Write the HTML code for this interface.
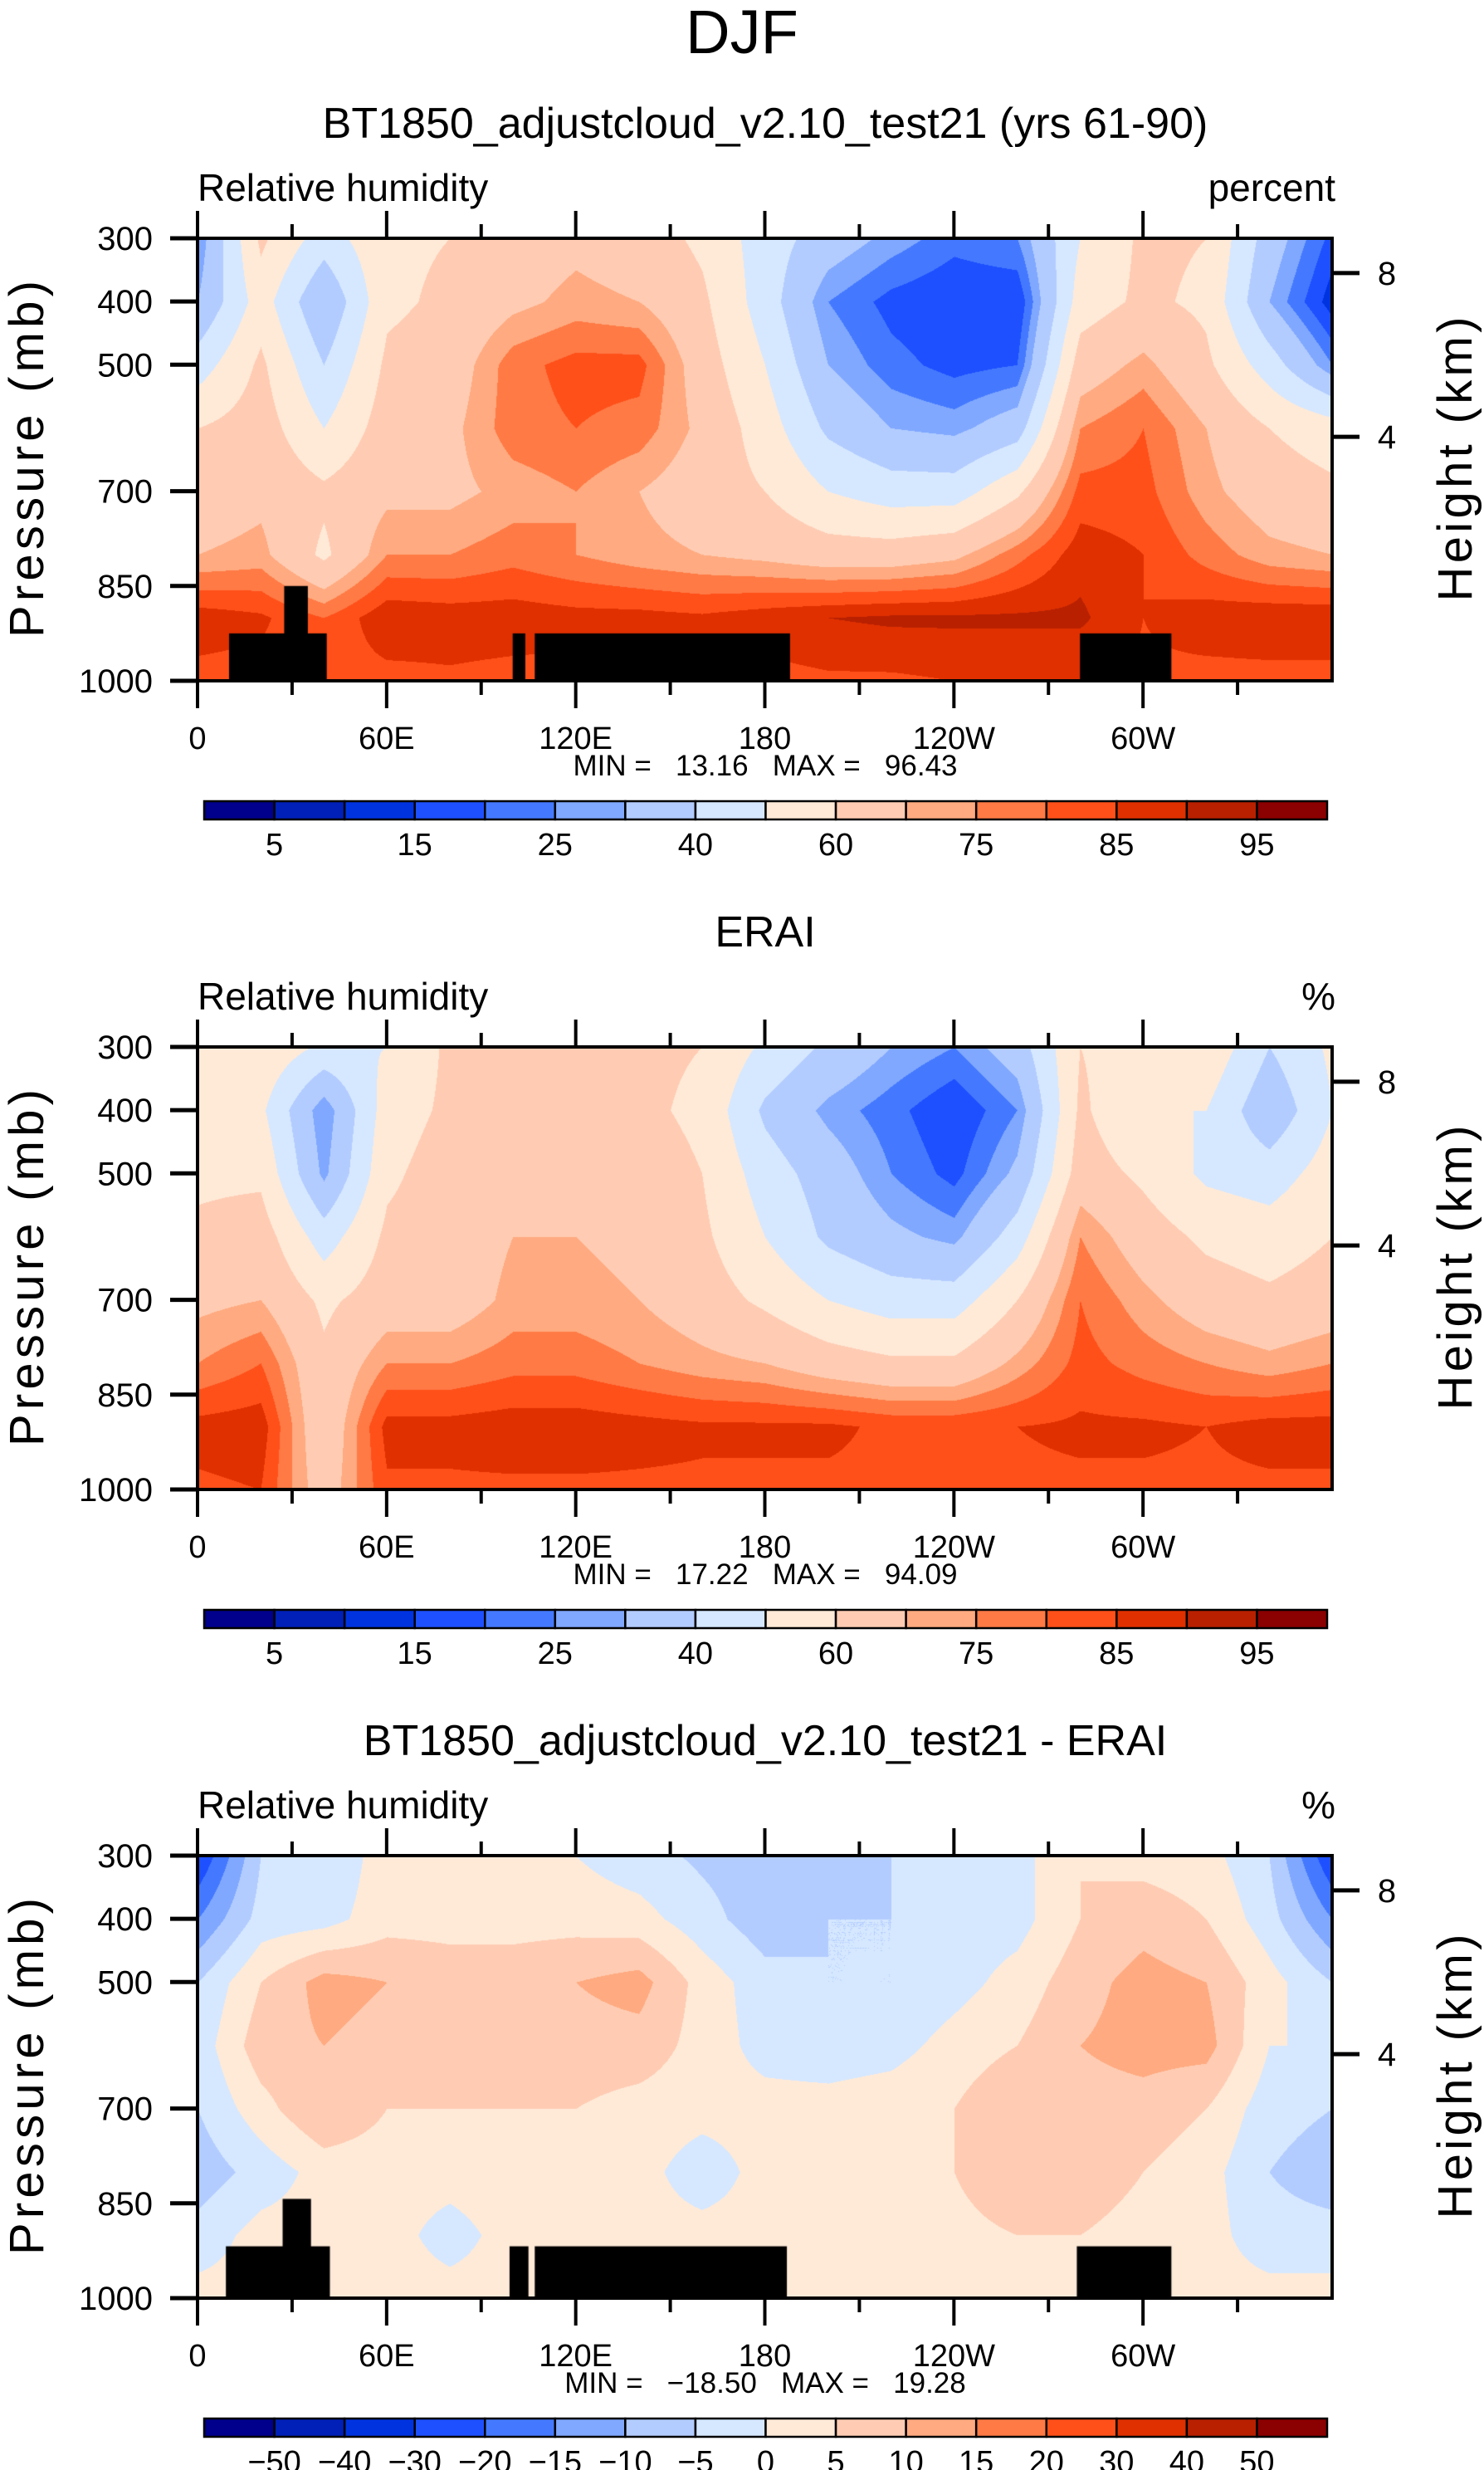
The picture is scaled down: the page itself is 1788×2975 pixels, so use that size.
<!DOCTYPE html>
<html><head><meta charset="utf-8">
<style>
html,body{margin:0;padding:0;background:#fff;}
#wrap{position:relative;width:1788px;height:2975px;overflow:hidden;background:#fff;}
canvas{position:absolute;}
svg{position:absolute;left:0;top:0;}
text{font-family:"Liberation Sans Narrow","Liberation Sans",sans-serif;fill:#000;}
</style></head>
<body>
<div id="wrap">
<canvas id="c0" width="1367" height="533" style="left:238px;top:287px"></canvas>
<canvas id="c1" width="1367" height="533" style="left:238px;top:1261px"></canvas>
<canvas id="c2" width="1367" height="533" style="left:238px;top:2235px"></canvas>
<svg id="svg" width="1788" height="2975" xmlns="http://www.w3.org/2000/svg">
<text x="894" y="64" font-size="74" text-anchor="middle" font-family="Liberation Sans" font-weight="300">DJF</text>
</svg>
</div>
<script>
// ---- data ----
const lons = [0,20,40,60,80,100,120,140,160,180,200,220,240,260,280,300,320,340,360];
const pressures = [300,400,500,600,700,800,900,1000];
// each row = one longitude column, values from 300 mb to 1000 mb
const modelRH = [
[25,30,45,60,65,70,88,83],[62,55,62,65,68,72,86,83],[45,30,40,50,62,58,80,83],
[58,58,62,65,68,75,89,83],[60,62,65,68,68,75,88,84],[65,68,78,78,72,78,88,83],
[68,72,82,80,75,75,87,83],[65,70,82,78,70,72,87,83],[58,62,65,68,65,70,86,83],
[45,45,50,55,60,68,88,83],[35,25,30,38,50,65,90,84],[28,18,22,30,45,65,91,84],
[22,15,18,28,45,68,91,85],[25,15,20,35,58,78,91,85],[50,55,65,75,82,88,91,85],
[62,62,72,80,82,85,85,84],[60,58,62,70,72,78,88,83],[35,30,45,60,65,72,89,83],
[18,12,25,55,62,70,89,83]];
const eraiRH = [
[55,55,58,62,68,75,87,84],[58,52,58,65,70,80,88,85],[48,25,28,45,58,62,62,65],
[50,55,58,62,65,75,87,84],[62,62,65,65,65,75,87,84],[65,65,68,70,72,78,88,84],
[65,65,68,70,72,78,88,84],[62,62,65,68,70,75,87,84],[60,58,60,62,65,72,86,84],
[48,38,45,50,58,70,86,84],[38,28,35,38,50,65,86,84],[30,22,25,32,45,62,84,84],
[25,15,18,28,45,62,84,84],[35,25,32,45,60,72,85,84],[60,62,65,75,80,82,86,84],
[55,50,58,65,72,78,86,84],[58,50,48,58,65,75,85,84],[40,32,45,55,62,72,87,84],
[52,50,55,60,65,75,87,84]];
const diffRH = [
[-25,-15,-5,-3,-5,-8,-3,2],[-5,-3,5,8,3,-3,2,2],[-5,-2,12,10,10,2,2,2],
[3,3,10,8,5,2,2,2],[2,3,8,8,5,2,-2,2],[2,3,8,8,5,3,2,2],
[0,3,10,8,5,2,2,2],[-3,2,12,8,3,2,2,2],[-6,-3,3,3,2,-3,2,2],
[-8,-8,-3,-2,2,2,2,2],[-8,-5,-5,-3,2,3,3,2],[-5,-5,-5,-2,3,3,3,2],
[-3,-3,-2,2,5,5,3,2],[-2,-2,2,5,10,10,5,2],[5,5,8,10,8,8,5,2],
[3,8,12,12,8,5,3,2],[2,5,10,12,5,2,2,2],[-5,-3,2,0,-3,-5,-3,2],
[-25,-15,-5,0,-5,-8,-3,2]];
const rhLevels = [5,10,15,20,25,30,40,50,60,70,75,80,85,90,95];
const rhLabels = ["5","15","25","40","60","75","85","95"];
const diffLevels = [-50,-40,-30,-20,-15,-10,-5,0,5,10,15,20,30,40,50];
const diffLabels = ["\u221250","\u221240","\u221230","\u221220","\u221215","\u221210","\u22125","0","5","10","15","20","30","40","50"];
// topography mask: [lonStart, lonEnd, topPressure]
const maskModel = [[10,41,925],[27.5,35,850],[100,104,925],[107,188,925],[280,309,925]];
const maskDiff = [[9,42,918],[27,36,843],[99,105,918],[107,187,918],[279,309,918]];
const lonTicks = [0,60,120,180,240,300];
const lonTickLabels = ["0","60E","120E","180","120W","60W"];
const pTicks = [300,400,500,700,850,1000];
const hTicks = [8,4];
const hTickP = [355,614];
const minVals = ["13.16","17.22","\u221218.50"];
const maxVals = ["96.43","94.09","19.28"];

const palette = ["#00008c","#0020b8","#0033e0","#1e50ff","#4479ff","#80a8ff","#b3ccff","#d6e8ff",
"#ffead8","#ffccb3","#ffaa80","#ff7a45","#ff5019","#e03000","#b82000","#8b0000"];

// ---- geometry ----
const PX0=238, PW=1367, PH=533;
const offs=[0,974,1948];
const xOf = lon => PX0 + lon/360*PW;
const yOf = (p,o) => 287 + o + (p-300)/700*PH;

function hex(c){return [parseInt(c.slice(1,3),16),parseInt(c.slice(3,5),16),parseInt(c.slice(5,7),16)];}
const rgb = palette.map(hex);

function sample(grid,lon,p){
  let i=Math.min(lons.length-2,Math.floor(lon/20)); let fx=(lon-lons[i])/20;
  let j=Math.min(pressures.length-2,Math.floor((p-300)/100)); let fy=(p-pressures[j])/100;
  const a=grid[i][j],b=grid[i+1][j],c=grid[i][j+1],d=grid[i+1][j+1];
  return a*(1-fx)*(1-fy)+b*fx*(1-fy)+c*(1-fx)*fy+d*fx*fy;
}
function drawField(id,grid,levels,mask){
  const cv=document.getElementById(id),ctx=cv.getContext('2d');
  const img=ctx.createImageData(PW,PH);
  for(let y=0;y<PH;y++){
    const p=300+y/PH*700;
    for(let x=0;x<PW;x++){
      const lon=x/PW*360;
      const v=sample(grid,lon,p);
      let k=0; while(k<levels.length && v>=levels[k]) k++;
      const c=rgb[k]; const q=(y*PW+x)*4;
      img.data[q]=c[0];img.data[q+1]=c[1];img.data[q+2]=c[2];img.data[q+3]=255;
    }
  }
  ctx.putImageData(img,0,0);
  if(mask){
    ctx.fillStyle='#000';
    mask.forEach(m=>{
      const x0=m[0]/360*PW,x1=m[1]/360*PW,y0=(m[2]-300)/700*PH;
      ctx.fillRect(x0,y0,x1-x0,PH-y0);
    });
  }
}
drawField('c0',modelRH,rhLevels,maskModel);
drawField('c1',eraiRH,rhLevels,null);
drawField('c2',diffRH,diffLevels,maskDiff);

// ---- overlay ----
const svg=document.getElementById('svg');
const NS='http://www.w3.org/2000/svg';
function mk(tag,attrs,txt){const e=document.createElementNS(NS,tag);for(const k in attrs)e.setAttribute(k,attrs[k]);if(txt!==undefined)e.textContent=txt;svg.appendChild(e);return e;}

const titles=["BT1850_adjustcloud_v2.10_test21 (yrs 61-90)","ERAI","BT1850_adjustcloud_v2.10_test21 - ERAI"];
const units=["percent","%","%"];
for(let k=0;k<3;k++){
  const o=offs[k];
  let e=mk('text',{x:922,y:166+o,'font-size':52,'text-anchor':'middle','font-family':'Liberation Sans'},titles[k]);
  
  
  e=mk('text',{x:PX0,y:242+o,'font-size':46},"Relative humidity");
  
  
  e=mk('text',{x:1609,y:242+o,'font-size':46,'text-anchor':'end'},units[k]);
  
  
  e=mk('rect',{x:PX0,y:287+o,width:PW,height:PH,fill:'none',stroke:'#000','stroke-width':4});
  
  
  for(let lon=0;lon<360;lon+=30){
    const major=lon%60===0, L=major?33:17, x=xOf(lon);
    e=mk('line',{x1:x,x2:x,y1:287+o-L,y2:287+o,stroke:'#000','stroke-width':4});
    
    
    e=mk('line',{x1:x,x2:x,y1:820+o,y2:820+o+L,stroke:'#000','stroke-width':4});
    
    
  }
  lonTicks.forEach((lon,i)=>{
    const t=mk('text',{x:xOf(lon),y:902+o,'font-size':38,'text-anchor':'middle'},lonTickLabels[i]);
    
    
  });
  pTicks.forEach(p=>{
    const y=yOf(p,o);
    let t=mk('line',{x1:205,x2:PX0,y1:y,y2:y,stroke:'#000','stroke-width':5});
    
    
    t=mk('text',{x:184,y:y+14,'font-size':40,'text-anchor':'end'},String(p));
    
    
  });
  hTicks.forEach((h,i)=>{
    const y=yOf(hTickP[i],o);
    let t=mk('line',{x1:1605,x2:1638,y1:y,y2:y,stroke:'#000','stroke-width':5});
    
    
    t=mk('text',{x:1671,y:y+14,'font-size':40,'text-anchor':'middle'},String(h));
    
    
  });
  const cy=553+o;
  e=mk('text',{x:0,y:0,'font-size':58,'text-anchor':'middle',transform:`translate(52,${cy}) rotate(-90)`,textLength:430,lengthAdjust:'spacing','font-family':'Liberation Sans'},"Pressure (mb)");
  
  
  e=mk('text',{x:0,y:0,'font-size':58,'text-anchor':'middle',transform:`translate(1773,${cy}) rotate(-90)`,textLength:343,lengthAdjust:'spacing','font-family':'Liberation Sans'},"Height (km)");
  
  
  e=mk('text',{x:922,y:934+o,'font-size':35,'text-anchor':'middle','xml:space':'preserve',style:'white-space:pre'},`MIN =   ${minVals[k]}   MAX =   ${maxVals[k]}`);
  
  
  // colorbar
  const cbx=246, cbw=1353, cby=965+o, cbh=22, n=16, bw=cbw/n;
  for(let i=0;i<n;i++){
    const r=mk('rect',{x:cbx+i*bw,y:cby,width:bw,height:cbh,fill:palette[i],stroke:'#000','stroke-width':2.5});
    
    
  }
  const labs = k===2 ? diffLabels : rhLabels;
  labs.forEach((s,i)=>{
    const idx = k===2 ? i : i*2;
    const t=mk('text',{x:cbx+(idx+1)*bw,y:cby+cbh+43,'font-size':38,'text-anchor':'middle'},s);
    
    
  });
}
</script>
</body></html>
